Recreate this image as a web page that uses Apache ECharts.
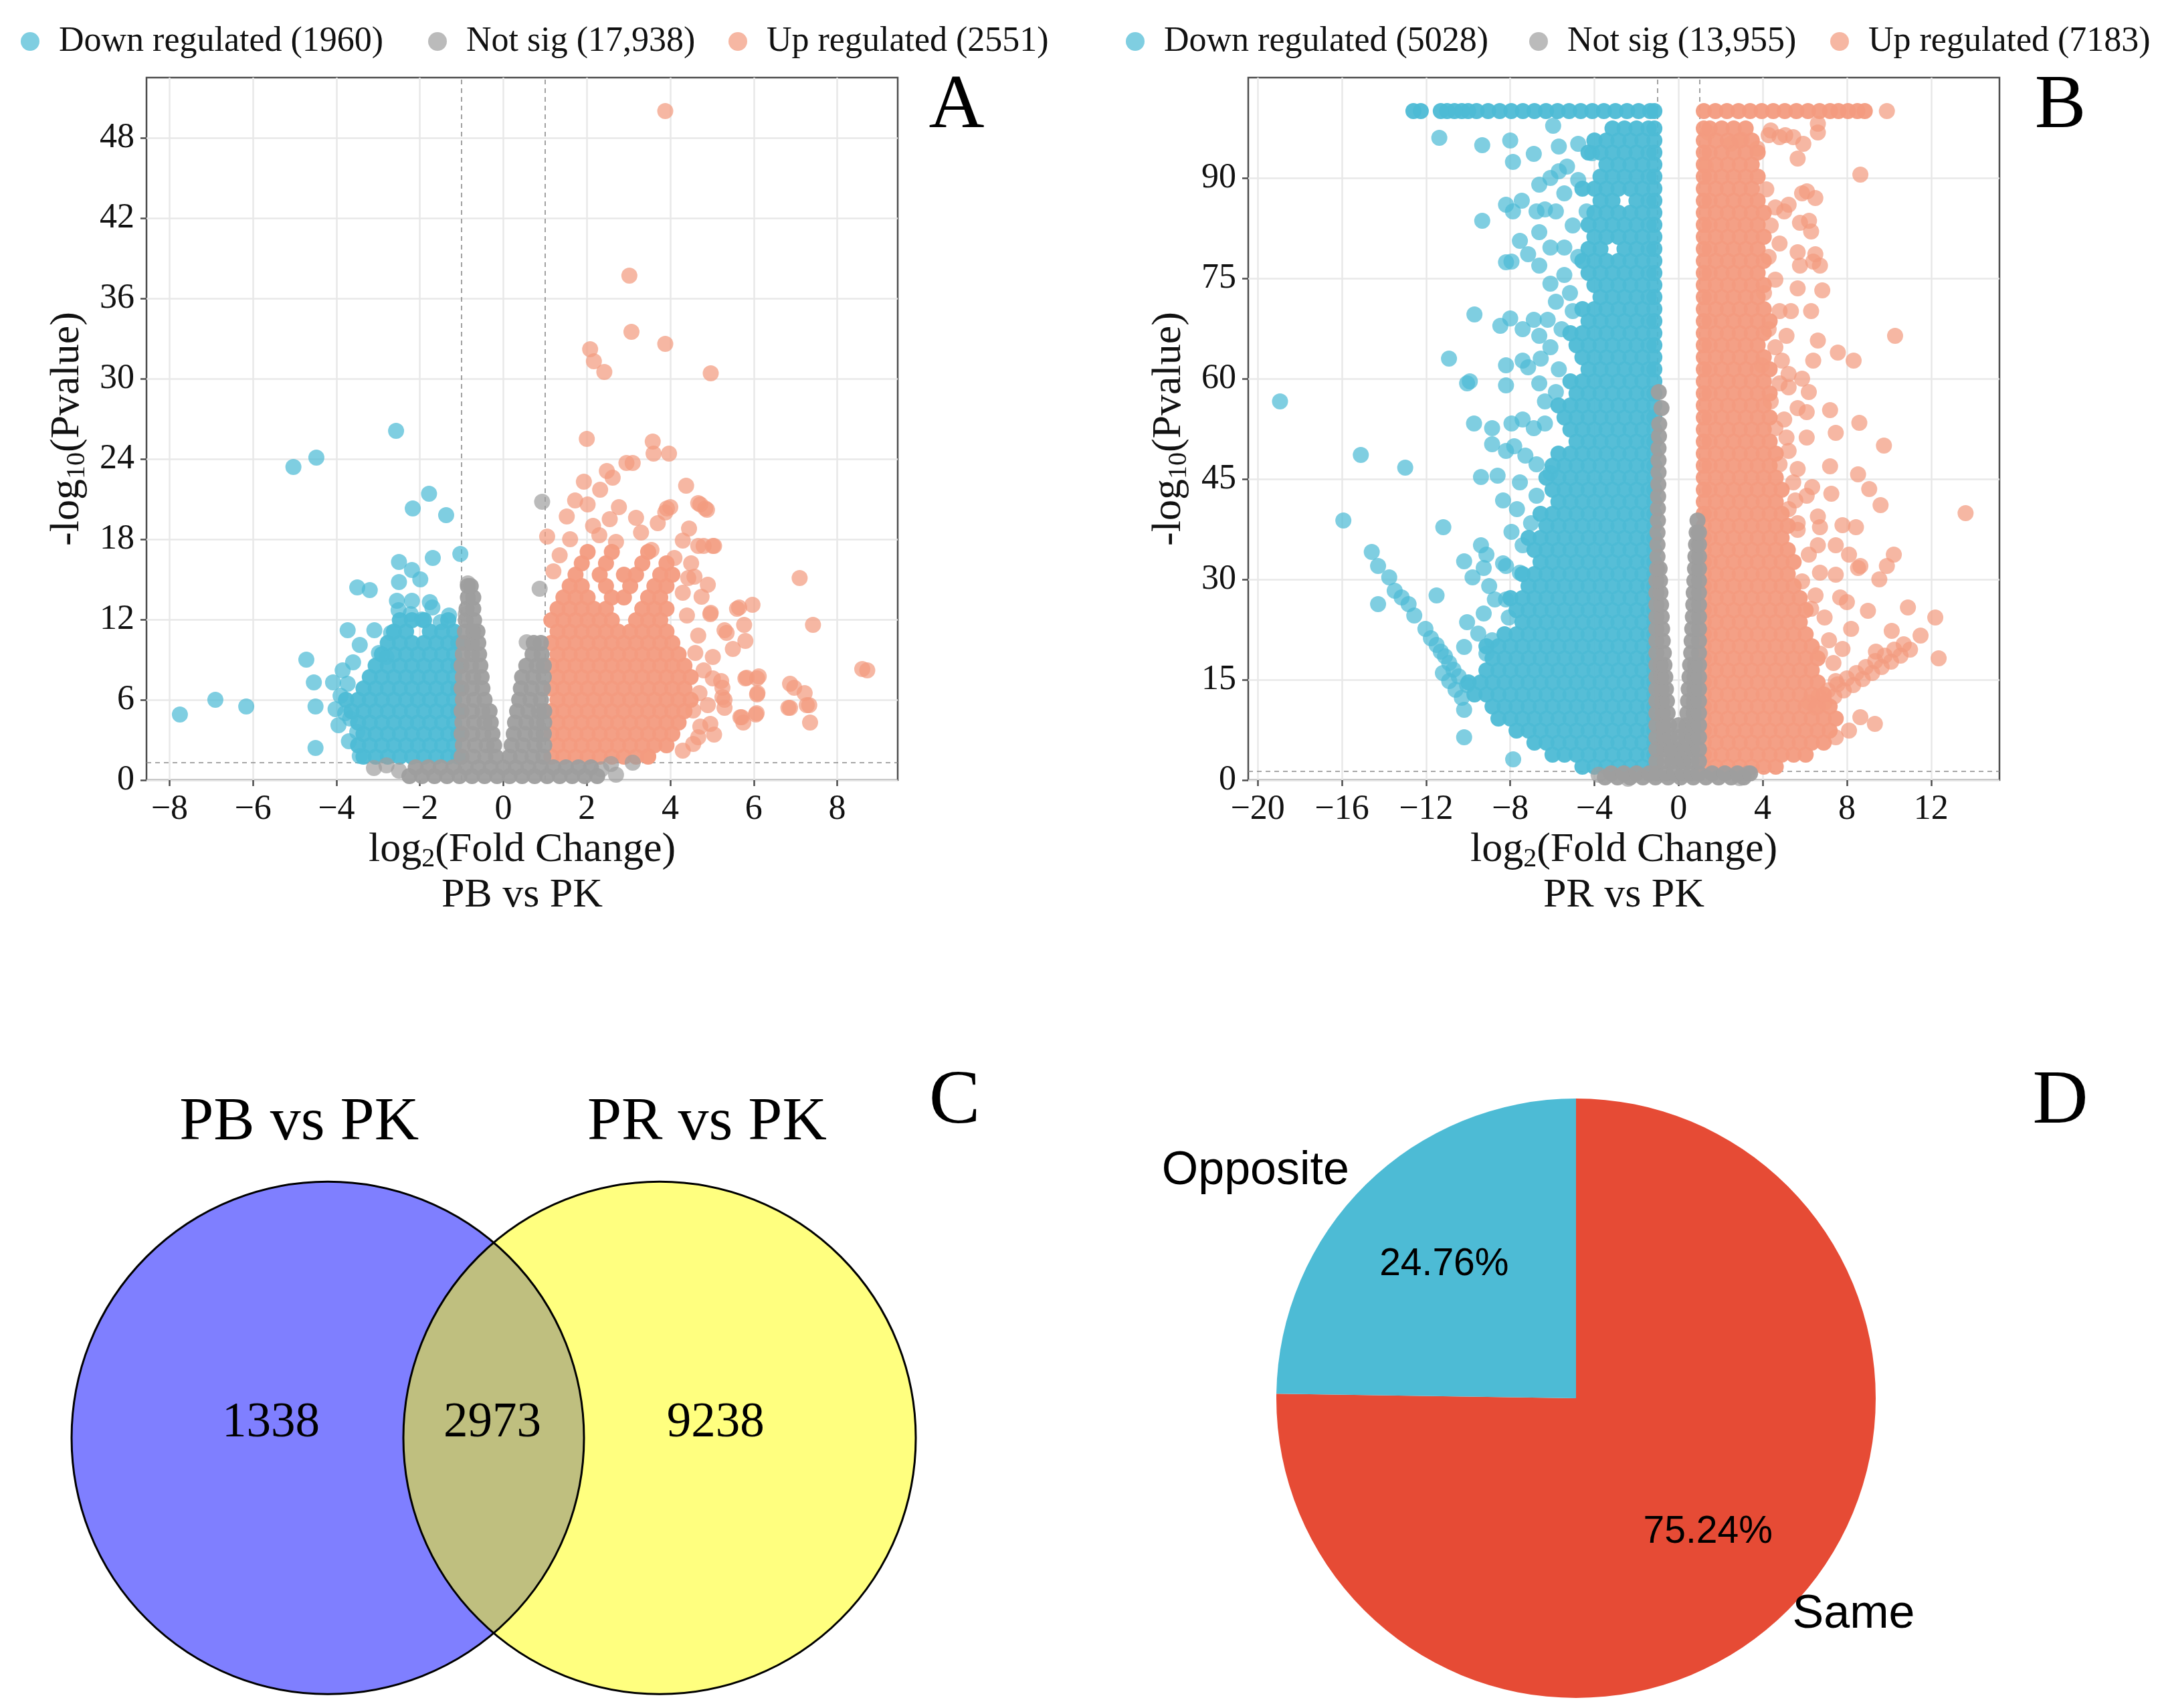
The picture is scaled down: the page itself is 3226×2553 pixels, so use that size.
<!DOCTYPE html>
<html>
<head>
<meta charset="utf-8">
<script src="https://cdn.jsdelivr.net/npm/echarts@6/dist/echarts.min.js"></script>
<style>
html,body{margin:0;padding:0;background:#fff}
#main{width:3226px;height:2553px}
</style>
</head>
<body>
<div id="main"></div>
<script>
// ---------- data ----------
const fcCut = 1, pCut = 1.301;
const legendA = ['Down regulated (1960)', 'Not sig (17,938)', 'Up regulated (2551)'];
const legendB = ['Down regulated (5028)', 'Not sig (13,955)', 'Up regulated (7183)'];
const ticksAx = [-8, -6, -4, -2, 0, 2, 4, 6, 8];
const ticksAy = [0, 6, 12, 18, 24, 30, 36, 42, 48];
const ticksBx = [-20, -16, -12, -8, -4, 0, 4, 8, 12];
const ticksBy = [0, 15, 30, 45, 60, 75, 90];
const vennSets = ['PB vs PK', 'PR vs PK'];
const vennCounts = [1338, 2973, 9238];
const pieNames = ['Same', 'Opposite'];
const pieValues = [75.24, 24.76];

// panel A, PB vs PK : [log2FC, -log10 p]
const downA = [[-2.57,26.1],[-5.03,23.4],[-4.48,24.1],[-1.78,21.4],[-2.17,20.3],[-1.37,19.8],[-1.03,16.9],[-1.69,16.6],[-2.5,16.3],[-2.19,15.7],[-1.99,15.0],[-2.5,14.8],[-3.5,14.4],[-3.2,14.2],[-2.55,13.4],[-2.19,13.4],[-1.76,13.3],[-1.7,12.9],[-2.51,12.7],[-2.22,12.4],[-1.3,12.3],[-3.73,11.2],[-3.09,11.2],[-2.69,11.0],[-3.44,10.1],[-2.98,9.5],[-2.8,9.2],[-4.72,9.0],[-4.54,7.3],[-4.08,7.3],[-3.73,7.2],[-4.5,5.5],[-4.02,5.3],[-3.79,5.0],[-3.67,4.6],[-3.5,3.6],[-3.44,1.8],[-4.5,2.4],[-7.75,4.9],[-6.9,6.0],[-6.16,5.5],[-3.9,6.3],[-3.85,8.2],[-3.6,8.8],[-3.95,4.1],[-3.7,2.9],[-1.5,11.8],[-1.95,12.0]];
const downArows = [
[1.75,-1.08,-1.32,-1.61,-1.9,-2.19,-2.48,-2.77,-3.06,-3.35],
[2.6,-1.18,-1.47,-1.76,-2.05,-2.33,-2.62,-2.91,-3.2,-3.48],
[3.45,-1.08,-1.32,-1.61,-1.9,-2.19,-2.48,-2.77,-3.06,-3.35],
[4.3,-1.18,-1.47,-1.76,-2.05,-2.33,-2.62,-2.91,-3.2,-3.48],
[5.15,-1.08,-1.32,-1.61,-1.9,-2.19,-2.48,-2.77,-3.06,-3.35,-3.64],
[6.0,-1.18,-1.47,-1.76,-2.05,-2.33,-2.62,-2.91,-3.2,-3.48,-3.77],
[6.85,-1.08,-1.32,-1.61,-1.9,-2.19,-2.48,-2.77,-3.06,-3.35],
[7.7,-1.18,-1.47,-1.76,-2.05,-2.33,-2.62,-2.91,-3.2],
[8.55,-1.08,-1.32,-1.61,-1.9,-2.19,-2.48,-2.77,-3.06],
[9.4,-1.18,-1.47,-1.76,-2.05,-2.33,-2.62,-2.91],
[10.25,-1.08,-1.32,-1.61,-1.9,-2.19,-2.48,-2.77],
[11.1,-1.18,-1.47,-1.76,-2.33,-2.62],
[11.95,-1.32,-1.9,-2.19,-2.48]
];
const upA = [[3.88,50.0],[3.02,37.7],[3.07,33.5],[3.88,32.6],[2.08,32.2],[2.17,31.3],[2.42,30.5],[4.97,30.4],[2.0,25.5],[3.58,25.3],[3.6,24.4],[3.97,24.4],[2.95,23.7],[3.1,23.7],[2.48,23.1],[2.62,22.6],[4.38,22.0],[1.93,22.3],[2.32,21.7],[1.72,20.9],[2.02,20.6],[4.72,20.6],[4.88,20.2],[4.0,20.4],[3.88,20.0],[2.77,20.4],[3.18,19.6],[2.55,19.5],[1.52,19.7],[1.05,18.2],[4.8,17.5],[5.05,17.5],[4.3,17.9],[7.1,15.1],[7.42,11.6],[5.97,13.1],[5.6,12.8],[8.6,8.3],[8.72,8.2],[6.08,7.6],[5.8,7.6],[6.08,6.4],[6.05,4.9],[5.68,4.7],[5.75,4.3],[6.97,6.9],[7.22,6.5],[6.83,5.4],[7.27,5.6],[7.35,4.3],[5.25,6.9],[5.3,6.0],[5.02,9.2],[5.35,11.0],[4.97,12.5],[4.75,13.7],[4.58,15.2],[4.43,15.1],[5.22,7.4],[4.72,4.0],[5.05,3.4],[4.55,2.7],[4.3,2.2],[3.47,1.8],[5.65,12.9],[5.77,11.6],[4.96,12.4],[5.3,11.2],[4.67,10.8],[5.02,7.6],[5.83,7.65],[6.12,7.75],[6.09,6.5],[6.07,5.0],[5.71,4.7],[6.87,7.2],[6.87,5.4],[7.33,5.6],[5.25,6.2],[5.3,5.4],[4.96,4.2],[4.67,3.2],[4.67,20.7],[4.84,20.3],[3.92,20.3],[5.02,17.5],[4.67,17.5],[1.35,16.8],[1.6,18.0],[2.3,18.3],[2.7,17.8],[3.3,18.5],[3.55,17.2],[4.1,16.6],[4.5,16.2],[1.2,15.6],[2.15,19.0],[3.7,19.2],[4.45,18.8],[4.9,14.6],[4.6,9.5],[4.8,8.2],[4.7,6.5],[4.55,5.2],[4.9,5.6],[5.5,9.8],[5.8,10.4],[4.4,12.3],[4.3,14.0]];
const upArows = [
[1.75,1.15,1.44,1.73,2.02,2.31,2.6,2.89,3.18,3.47],
[2.6,1.3,1.59,1.88,2.17,2.46,2.75,3.04,3.33,3.62,3.91],
[3.45,1.15,1.44,1.73,2.02,2.31,2.6,2.89,3.18,3.47,3.76,4.05],
[4.3,1.3,1.59,1.88,2.17,2.46,2.75,3.04,3.33,3.62,3.91,4.2],
[5.15,1.15,1.44,1.73,2.02,2.31,2.6,2.89,3.18,3.47,3.76,4.05,4.34],
[6.0,1.3,1.59,1.88,2.17,2.46,2.75,3.04,3.33,3.62,3.91,4.2,4.49],
[6.85,1.15,1.44,1.73,2.02,2.31,2.6,2.89,3.18,3.47,3.76,4.05,4.34],
[7.7,1.3,1.59,1.88,2.17,2.46,2.75,3.04,3.33,3.62,3.91,4.2,4.49],
[8.55,1.15,1.44,1.73,2.02,2.31,2.6,2.89,3.18,3.47,3.76,4.05,4.34],
[9.4,1.3,1.59,1.88,2.17,2.46,2.75,3.04,3.33,3.62,3.91,4.2],
[10.25,1.15,1.44,1.73,2.02,2.31,2.6,2.89,3.18,3.47,3.76,4.05],
[11.1,1.3,1.59,1.88,2.17,2.46,2.75,3.04,3.33,3.62,3.91],
[11.95,1.15,1.44,1.73,2.02,2.31,2.6,3.18,3.47,3.76],
[12.8,1.3,1.59,1.88,2.17,2.46,3.33,3.62,3.91],
[13.65,1.44,1.73,2.02,2.6,2.89,3.47,3.76],
[14.5,1.59,1.88,2.46,3.04,3.62,3.91],
[15.35,1.73,2.31,2.89,3.18,3.76,4.05],
[16.2,1.88,2.46,3.33,3.91],
[17.05,2.02,2.6,3.47]
];
const nsA = [[0.93,20.8],[0.87,14.3],[0.56,10.3],[-0.85,14.7],[2.58,1.2],[3.1,1.3],[2.35,0.8],[-3.1,0.9],[-2.8,1.1],[-2.5,0.7],[2.7,0.4],[-0.9,12.4]];
const nsArows = [
[0.3,-2.25,-1.95,-1.65,-1.35,-1.05,-0.75,-0.45,-0.15,0.15,0.45,0.75,1.05,1.35,1.65,1.95,2.25],
[0.95,-2.1,-1.8,-1.5,-1.2,-0.9,-0.6,-0.3,0,0.3,0.6,0.9,1.2,1.5,1.8,2.1],
[1.75,-1.0,-0.72,-0.43,-0.18,0.15,0.42,0.7,0.96],
[2.6,-0.97,-0.68,-0.4,-0.22,0.2,0.47,0.75,0.98],
[3.45,-1.0,-0.74,-0.48,-0.26,0.25,0.52,0.78,0.97],
[4.3,-0.98,-0.7,-0.45,-0.3,0.28,0.55,0.8,0.98],
[5.15,-1.0,-0.75,-0.5,-0.33,0.33,0.6,0.85,0.98],
[6.0,-0.97,-0.7,-0.45,0.38,0.65,0.9],
[6.85,-1.0,-0.75,-0.5,0.42,0.68,0.95],
[7.7,-0.97,-0.72,-0.52,0.45,0.72,0.97],
[8.55,-1.0,-0.77,-0.55,0.55,0.8,0.97],
[9.4,-0.97,-0.75,-0.58,0.7,0.92],
[10.25,-0.95,-0.75,-0.6,0.73,0.9],
[11.1,-0.92,-0.72,-0.62],
[11.95,-0.9,-0.7],
[12.8,-0.88,-0.72],
[13.65,-0.85,-0.72],
[14.5,-0.85,-0.78]
];

// panel B, PR vs PK
const downB = [[-18.94,56.6],[-15.1,48.6],[-12.99,46.7],[-15.93,38.8],[-14.58,34.1],[-14.28,32.0],[-13.75,30.3],[-13.49,28.3],[-13.16,27.3],[-12.83,26.3],[-12.56,24.6],[-14.28,26.3],[-12.03,22.6],[-11.77,21.2],[-11.5,20.2],[-11.3,19.2],[-11.1,18.5],[-10.9,17.5],[-10.7,16.5],[-10.45,15.5],[-10.05,14.2],[-11.2,16.0],[-10.9,14.8],[-10.6,13.5],[-10.3,12.3],[-11.18,37.8],[-10.91,63.0],[-10.05,59.3],[-9.92,59.6],[-9.7,69.6],[-9.33,83.6],[-11.37,96.0],[-9.33,94.9],[-8.0,95.6],[-7.87,92.4],[-6.88,93.6],[-5.69,94.7],[-8.2,86.0],[-7.87,85.0],[-7.45,86.6],[-7.15,78.6],[-8.2,77.4],[-7.94,77.5],[-7.54,80.6],[-6.62,81.9],[-6.35,85.3],[-6.62,89.0],[-6.09,90.0],[-6.88,68.8],[-8.47,67.9],[-8.0,69.0],[-8.2,62.0],[-8.2,59.0],[-7.41,67.4],[-6.62,66.4],[-9.72,53.3],[-8.86,52.6],[-8.86,50.2],[-9.39,45.3],[-8.6,45.5],[-8.2,49.2],[-9.39,35.1],[-10.19,32.7],[-9.26,31.7],[-9.79,30.3],[-11.5,27.6],[-8.2,32.0],[-8.2,27.0],[-10.19,10.5],[-10.19,6.4],[-7.86,3.1],[-7.41,62.7],[-7.15,61.7],[-6.55,63.0],[-6.09,64.7],[-5.56,67.4],[-5.03,70.1],[-5.16,72.8],[-5.43,75.5],[-6.09,74.2],[-4.77,78.2],[-5.43,79.6],[-5.03,82.9],[-4.37,85.0],[-5.83,85.0],[-5.43,87.7],[-4.77,89.7],[-5.3,91.7],[-4.11,93.7],[-4.77,95.1],[-5.96,97.8],[-5.69,91.0],[-7.94,53.3],[-7.41,53.9],[-6.88,52.6],[-6.35,53.3],[-7.81,49.9],[-7.28,48.5],[-6.75,47.2],[-6.09,45.9],[-7.54,44.5],[-6.75,42.5],[-8.34,41.8],[-7.68,40.5],[-7.01,38.4],[-7.94,37.1],[-7.41,35.1],[-9.13,33.7],[-8.34,32.4],[-7.54,31.0],[-9.0,29.0],[-8.73,27.0],[-9.26,24.9],[-8.07,24.3],[-10.05,23.6],[-9.52,21.9],[-8.86,20.9],[-10.19,19.9],[-9.13,18.9],[-5.83,58.0],[-6.35,56.6],[-6.62,59.3],[-5.69,61.4],[-6.22,68.8],[-5.83,71.5],[-6.62,76.9],[-6.09,79.6],[-6.75,85.0]];
const downBrows = [
[2.0,-1.15,-1.72,-2.29,-2.86,-3.43,-4.0,-4.57],
[3.8,-1.15,-1.43,-2.0,-2.57,-3.14,-3.71,-4.28,-4.85,-5.42,-5.99],
[5.6,-1.15,-1.72,-2.29,-2.86,-3.43,-4.0,-4.57,-5.14,-5.71,-6.28,-6.85],
[7.4,-1.15,-1.43,-2.0,-2.57,-3.14,-3.71,-4.28,-4.85,-5.42,-5.99,-6.56,-7.13,-7.7],
[9.2,-1.15,-1.72,-2.29,-2.86,-3.43,-4.0,-4.57,-5.14,-5.71,-6.28,-6.85,-7.42,-7.99,-8.56],
[11.0,-1.15,-1.43,-2.0,-2.57,-3.14,-3.71,-4.28,-4.85,-5.42,-5.99,-6.56,-7.13,-7.7,-8.27,-8.84],
[12.8,-1.15,-1.72,-2.29,-2.86,-3.43,-4.0,-4.57,-5.14,-5.71,-6.28,-6.85,-7.42,-7.99,-8.56,-9.13,-9.7],
[14.6,-1.15,-1.43,-2.0,-2.57,-3.14,-3.71,-4.28,-4.85,-5.42,-5.99,-6.56,-7.13,-7.7,-8.27,-8.84,-9.41,-9.98],
[16.4,-1.15,-1.72,-2.29,-2.86,-3.43,-4.0,-4.57,-5.14,-5.71,-6.28,-6.85,-7.42,-7.99,-8.56,-9.13],
[18.2,-1.15,-1.43,-2.0,-2.57,-3.14,-3.71,-4.28,-4.85,-5.42,-5.99,-6.56,-7.13,-7.7,-8.27,-8.84],
[20.0,-1.15,-1.72,-2.29,-2.86,-3.43,-4.0,-4.57,-5.14,-5.71,-6.28,-6.85,-7.42,-7.99,-8.56,-9.13],
[21.8,-1.15,-1.43,-2.0,-2.57,-3.14,-3.71,-4.28,-4.85,-5.42,-5.99,-6.56,-7.13,-7.7,-8.27],
[23.6,-1.15,-1.72,-2.29,-2.86,-3.43,-4.0,-4.57,-5.14,-5.71,-6.28,-6.85,-7.42],
[25.4,-1.15,-1.43,-2.0,-2.57,-3.14,-3.71,-4.28,-4.85,-5.42,-5.99,-6.56,-7.13,-7.7],
[27.2,-1.15,-1.72,-2.29,-2.86,-3.43,-4.0,-4.57,-5.14,-5.71,-6.28,-6.85,-7.42,-7.99],
[29.0,-1.15,-1.43,-2.0,-2.57,-3.14,-3.71,-4.28,-4.85,-5.42,-5.99,-6.56,-7.13],
[30.8,-1.15,-1.72,-2.29,-2.86,-3.43,-4.0,-4.57,-5.14,-5.71,-6.28,-6.85,-7.42],
[32.6,-1.15,-1.43,-2.0,-2.57,-3.14,-3.71,-4.28,-4.85,-5.42,-5.99,-6.56],
[34.4,-1.15,-1.72,-2.29,-2.86,-3.43,-4.0,-4.57,-5.14,-5.71,-6.28,-6.85],
[36.2,-1.15,-1.43,-2.0,-2.57,-3.14,-3.71,-4.28,-4.85,-5.42,-5.99,-6.56,-7.13],
[38.0,-1.15,-1.72,-2.29,-2.86,-3.43,-4.0,-4.57,-5.14,-5.71,-6.28],
[39.8,-1.15,-1.43,-2.0,-2.57,-3.14,-3.71,-4.28,-4.85,-5.42,-5.99,-6.56],
[41.6,-1.15,-1.72,-2.29,-2.86,-3.43,-4.0,-4.57,-5.14,-5.71],
[43.4,-1.15,-1.43,-2.0,-2.57,-3.14,-3.71,-4.28,-4.85,-5.42,-5.99],
[45.2,-1.15,-1.72,-2.29,-2.86,-3.43,-4.0,-4.57,-5.14,-5.71,-6.28],
[47.0,-1.15,-1.43,-2.0,-2.57,-3.14,-3.71,-4.28,-4.85,-5.42,-5.99],
[48.8,-1.15,-1.72,-2.29,-2.86,-3.43,-4.0,-4.57,-5.14,-5.71],
[50.6,-1.15,-1.43,-2.0,-2.57,-3.14,-3.71,-4.28,-4.85],
[52.4,-1.15,-1.72,-2.29,-2.86,-3.43,-4.0,-4.57,-5.14],
[54.2,-1.15,-1.43,-2.0,-2.57,-3.14,-3.71,-4.28,-4.85,-5.42],
[56.0,-1.15,-1.72,-2.29,-2.86,-3.43,-4.0,-4.57,-5.14,-5.71],
[57.8,-1.15,-1.43,-2.0,-2.57,-3.14,-3.71,-4.28,-4.85],
[59.6,-1.15,-1.72,-2.29,-2.86,-3.43,-4.0,-4.57,-5.14],
[61.4,-1.15,-1.43,-2.0,-2.57,-3.14,-3.71,-4.28],
[63.2,-1.15,-1.72,-2.29,-2.86,-3.43,-4.0,-4.57],
[65.0,-1.15,-1.43,-2.0,-2.57,-3.14,-3.71,-4.28,-4.85],
[66.8,-1.15,-1.72,-2.29,-2.86,-3.43,-4.0,-4.57,-5.14],
[68.6,-1.15,-1.43,-2.0,-2.57,-3.14,-3.71,-4.28],
[70.4,-1.15,-1.72,-2.29,-2.86,-3.43,-4.0,-4.57],
[72.2,-1.15,-1.43,-2.0,-2.57,-3.14,-3.71],
[74.0,-1.15,-1.72,-2.29,-2.86,-3.43,-4.0],
[75.8,-1.15,-1.43,-2.0,-2.57,-3.14,-3.71,-4.28],
[77.6,-1.15,-1.72,-2.29,-2.86,-3.43,-4.0,-4.57],
[79.4,-1.15,-1.43,-2.0,-2.57,-3.71,-4.28],
[81.2,-1.15,-1.72,-2.29,-2.86,-3.43,-4.0],
[83.0,-1.15,-1.43,-2.0,-2.57,-3.14,-3.71,-4.28],
[84.8,-1.15,-1.72,-2.29,-2.86,-3.43,-4.0],
[86.6,-1.15,-1.43,-2.0,-3.14,-3.71],
[88.4,-1.15,-1.72,-2.29,-2.86,-3.43,-4.0,-4.57],
[90.2,-1.15,-1.43,-2.0,-2.57,-3.14,-3.71],
[92.0,-1.15,-1.72,-2.29,-2.86,-3.43],
[93.8,-1.15,-1.43,-2.0,-2.57,-3.14,-3.71,-4.28],
[95.6,-1.15,-1.72,-2.29,-2.86,-3.43,-4.0],
[97.4,-1.15,-1.43,-2.0,-2.57,-3.14],
[100,-1.15,-1.35,-1.9,-2.45,-3.0,-3.55,-4.1,-4.65,-5.2,-5.75,-6.3,-6.85,-7.4,-7.95,-8.5,-9.05,-9.6,-10.0,-10.3,-10.65,-11.0,-11.3,-12.25,-12.6]
];
const upB = [[1.4,96.8],[1.3,91.7],[4.38,97.1],[5.07,96.4],[5.45,96.1],[5.93,95.1],[6.62,96.8],[5.66,92.9],[6.62,98.1],[8.64,90.5],[5.23,86.0],[5.87,87.7],[6.1,88.0],[6.5,87.0],[6.2,83.6],[5.77,83.3],[6.3,82.0],[5.66,78.9],[5.77,76.9],[6.4,77.5],[6.72,76.9],[6.5,78.6],[5.66,73.5],[6.83,73.2],[5.34,70.1],[6.3,70.1],[5.13,66.4],[6.62,65.7],[4.91,62.7],[6.4,62.7],[7.57,63.9],[8.32,62.7],[10.29,66.4],[5.23,60.7],[5.87,60.0],[5.23,58.7],[6.19,58.0],[5.66,55.6],[7.2,55.3],[6.09,55.0],[7.47,51.9],[8.59,53.4],[9.76,50.0],[5.13,51.2],[6.09,51.2],[7.2,46.9],[8.53,45.7],[9.06,43.5],[9.6,41.1],[13.64,39.9],[6.35,43.8],[7.26,42.8],[5.55,41.8],[6.62,39.4],[7.79,38.1],[8.43,37.8],[6.72,37.8],[5.66,37.4],[6.62,35.1],[7.47,35.1],[8.1,33.7],[8.64,32.0],[9.54,30.0],[10.23,33.7],[9.9,32.0],[7.47,30.7],[8.53,31.7],[7.68,27.3],[9.0,25.3],[10.9,25.8],[12.2,24.3],[11.5,21.6],[12.36,18.2],[10.13,22.3],[9.38,19.2],[8.0,26.6],[8.2,22.6],[7.79,19.6],[8.64,9.4],[9.33,8.4],[9.9,100],[2.47,95.1],[3.0,95.7],[3.74,94.4],[4.28,96.4],[4.8,96.1],[4.17,88.3],[4.6,85.6],[5.02,85.0],[4.38,82.9],[4.8,80.2],[4.28,78.2],[4.6,74.8],[4.06,72.8],[4.8,70.1],[4.28,67.4],[4.6,64.7],[3.96,62.0],[4.8,59.3],[4.38,56.6],[5.02,53.9],[4.6,52.6],[5.23,49.2],[4.8,47.2],[5.66,46.5],[5.45,44.5],[6.09,42.5],[5.23,40.5],[5.66,38.4],[6.19,33.7],[6.72,31.0],[5.87,29.7],[6.51,27.6],[6.94,24.3],[6.3,25.6],[7.15,20.9],[6.72,18.9],[7.36,17.5],[7.47,14.8],[6.51,10.8],[6.95,11.6],[7.4,12.5],[7.85,13.4],[8.3,14.2],[8.75,15.1],[9.2,16.0],[9.65,16.9],[10.1,17.7],[10.55,18.6],[11.0,19.5],[6.2,11.6],[6.65,12.5],[7.1,13.4],[7.55,14.3],[8.0,15.2],[8.45,16.0],[8.9,16.9],[9.35,17.8],[9.8,18.6],[10.25,19.5],[10.7,20.3],[7.47,6.4],[8.1,7.4]];
const upBrows = [
[2.0,1.2,1.77,2.34,2.91,3.48,4.05,4.62],
[3.8,1.2,1.48,2.05,2.62,3.19,3.76,4.33,4.9,5.47,6.04],
[5.6,1.2,1.77,2.34,2.91,3.48,4.05,4.62,5.19,5.76,6.33,6.9],
[7.4,1.2,1.48,2.05,2.62,3.19,3.76,4.33,4.9,5.47,6.04,6.61,7.18],
[9.2,1.2,1.77,2.34,2.91,3.48,4.05,4.62,5.19,5.76,6.33,6.9,7.47],
[11.0,1.2,1.48,2.05,2.62,3.19,3.76,4.33,4.9,5.47,6.04,6.61,7.18],
[12.8,1.2,1.77,2.34,2.91,3.48,4.05,4.62,5.19,5.76,6.33,6.9],
[14.6,1.2,1.48,2.05,2.62,3.19,3.76,4.33,4.9,5.47,6.04,6.61],
[16.4,1.2,1.77,2.34,2.91,3.48,4.05,4.62,5.19,5.76,6.33],
[18.2,1.2,1.48,2.05,2.62,3.19,3.76,4.33,4.9,5.47,6.04,6.61],
[20.0,1.2,1.77,2.34,2.91,3.48,4.05,4.62,5.19,5.76,6.33],
[21.8,1.2,1.48,2.05,2.62,3.19,3.76,4.33,4.9,5.47,6.04],
[23.6,1.2,1.77,2.34,2.91,3.48,4.05,4.62,5.19,5.76],
[25.4,1.2,1.48,2.05,2.62,3.19,3.76,4.33,4.9,5.47,6.04],
[27.2,1.2,1.77,2.34,2.91,3.48,4.05,4.62,5.19,5.76],
[29.0,1.2,1.48,2.05,2.62,3.19,3.76,4.33,4.9,5.47],
[30.8,1.2,1.77,2.34,2.91,3.48,4.05,4.62,5.19],
[32.6,1.2,1.48,2.05,2.62,3.19,3.76,4.33,4.9,5.47],
[34.4,1.2,1.77,2.34,2.91,3.48,4.05,4.62,5.19],
[36.2,1.2,1.48,2.05,2.62,3.19,3.76,4.33,4.9],
[38.0,1.2,1.77,2.34,2.91,3.48,4.05,4.62,5.19],
[39.8,1.2,1.48,2.05,2.62,3.19,3.76,4.33,4.9],
[41.6,1.2,1.77,2.34,2.91,3.48,4.05,4.62],
[43.4,1.2,1.48,2.05,2.62,3.19,3.76,4.33,4.9],
[45.2,1.2,1.77,2.34,2.91,3.48,4.05,4.62],
[47.0,1.2,1.48,2.05,2.62,3.19,3.76,4.33],
[48.8,1.2,1.77,2.34,2.91,3.48,4.05,4.62],
[50.6,1.2,1.48,2.05,2.62,3.19,3.76,4.33],
[52.4,1.2,1.77,2.34,2.91,3.48,4.05],
[54.2,1.2,1.48,2.05,2.62,3.19,3.76,4.33],
[56.0,1.2,1.77,2.34,2.91,3.48,4.05],
[57.8,1.2,1.48,2.05,2.62,3.19,3.76,4.33],
[59.6,1.2,1.77,2.34,2.91,3.48,4.05],
[61.4,1.2,1.48,2.05,2.62,3.19,3.76,4.33],
[63.2,1.2,1.77,2.34,2.91,3.48,4.05],
[65.0,1.2,1.48,2.05,2.62,3.19,3.76],
[66.8,1.2,1.77,2.34,2.91,3.48,4.05],
[68.6,1.2,1.48,2.05,2.62,3.19,3.76,4.33],
[70.4,1.2,1.77,2.34,2.91,3.48,4.05],
[72.2,1.2,1.48,2.05,2.62,3.19,3.76],
[74.0,1.2,1.77,2.34,2.91,3.48,4.05],
[75.8,1.2,1.48,2.05,2.62,3.19,3.76],
[77.6,1.2,1.77,2.34,2.91,3.48,4.05],
[79.4,1.2,1.48,2.05,2.62,3.19,3.76],
[81.2,1.2,1.77,2.34,2.91,3.48,4.05],
[83.0,1.2,1.48,2.05,2.62,3.19,3.76],
[84.8,1.2,1.77,2.34,2.91,3.48,4.05],
[86.6,1.2,1.48,2.05,2.62,3.19,3.76],
[88.4,1.2,1.77,2.34,2.91,3.48],
[90.2,1.2,1.48,2.05,2.62,3.19,3.76],
[92.0,1.2,1.77,2.34,2.91,3.48],
[93.8,1.2,1.48,2.05,2.62,3.19,3.76],
[95.6,1.2,1.77,2.34,2.91,3.48],
[97.4,1.2,1.48,2.05,2.62,3.19],
[100,1.2,1.75,2.3,2.85,3.4,3.95,4.5,5.05,5.6,6.15,6.7,7.2,7.6,8.05,8.5,8.85]
];
const nsB = [[-2.4,0.2],[2.9,0.3],[3.3,1.0],[-3.8,0.8]];
const nsBrows = [
[0.4,-3.5,-2.9,-2.3,-1.7,-1.1,-0.5,0.1,0.7,1.3,1.9,2.5,3.1],
[1.0,-3.2,-2.6,-2.0,-1.4,-1.05,-0.6,-0.2,0.2,0.6,0.97,1.6,2.2,2.8,3.4],
[2.8,-1.05,-0.65,-0.3,0.02,0.25,0.62,0.97],
[4.6,-1.05,-0.68,-0.35,-0.02,0.3,0.65,0.97],
[6.4,-1.05,-0.7,-0.4,0.0,0.35,0.68,0.97],
[8.2,-1.05,-0.72,-0.45,0.0,0.38,0.7,0.97],
[10.0,-1.05,-0.75,-0.52,0.42,0.72,0.97],
[11.8,-1.05,-0.78,-0.55,0.45,0.73,0.97],
[13.6,-1.05,-0.8,-0.6,0.48,0.75,0.97],
[15.4,-1.05,-0.82,-0.63,0.52,0.75,0.97],
[17.2,-1.05,-0.85,-0.67,0.55,0.78,0.97],
[19.0,-1.05,-0.7,0.6,0.97],
[20.8,-1.05,-0.75,0.62,0.97],
[22.6,-1.05,-0.78,0.65,0.97],
[24.4,-1.05,-0.8,0.68,0.97],
[26.2,-1.05,-0.83,0.7,0.97],
[28.0,-1.05,-0.86,0.72,0.97],
[29.8,-1.05,-0.88,0.75,0.97],
[31.6,-1.02,-0.9,0.78,0.97],
[33.4,-1.0,0.8,0.97],
[35.2,-1.0,0.83,0.97],
[37.0,-1.0,0.86,0.97],
[38.8,-0.98,0.9],
[40.6,-0.98],[42.4,-0.97],[44.2,-0.96],[46.0,-0.95],[47.8,-0.95],[49.6,-0.95],
[51.4,-0.93],[53.2,-0.92],[55.6,-0.81],[58.0,-0.94]
];

// ---------- drawing ----------
const serif = 'Liberation Serif';
const sans = 'Liberation Sans';
const colDown = '#4DBBD5', colUp = '#F39B7F', colNs = '#9E9E9E';
const ink = '#111111';
const dot = 24;

function rowsToPoints(rows) {
    const out = [];
    rows.forEach(r => {
        for (let i = 1; i < r.length; i++) out.push([r[i], r[0]]);
    });
    return out;
}

const nameStyle = {
    fontFamily: serif, fontSize: 62, color: ink, lineHeight: 68,
    rich: {
        t: { fontFamily: serif, fontSize: 62, lineHeight: 68, color: ink },
        s: { fontFamily: serif, fontSize: 40, lineHeight: 40, padding: [28, 0, 0, 0], color: ink }
    }
};

function valueAxis(gridIndex, min, max, ticks, name, nameGap) {
    return {
        type: 'value', gridIndex, min, max,
        axisLine: { show: false, onZero: false },
        axisTick: { show: true, length: 9, customValues: ticks, lineStyle: { color: '#4d4d4d', width: 2.5 } },
        axisLabel: {
            customValues: ticks, margin: 18, color: ink, fontFamily: serif, fontSize: 52,
            formatter: v => String(v).replace('-', '\u2212')
        },
        splitLine: { show: true, lineStyle: { color: '#e8e8e8', width: 2.5 } },
        name, nameLocation: 'middle', nameGap, nameTextStyle: nameStyle
    };
}

function hiddenAxis(gridIndex, min, max) {
    return { type: 'value', gridIndex, min, max, show: false, splitLine: { show: false } };
}

function volcano(g, names, down, downRows, up, upRows, ns, nsRows) {
    const mk = (name, data, color, op) => ({
        type: 'scatter', name, xAxisIndex: g, yAxisIndex: g, data,
        symbolSize: dot, itemStyle: { color, opacity: op },
        silent: true, progressive: 0, animation: false
    });
    return [
        {
            type: 'scatter', xAxisIndex: g, yAxisIndex: g, data: [], silent: true, z: 1,
            markLine: {
                silent: true, symbol: 'none', z: 1, animation: false,
                label: { show: false },
                lineStyle: { type: [7, 6], color: '#8a8a8a', width: 1.6 },
                data: [{ xAxis: -fcCut }, { xAxis: fcCut }, { yAxis: pCut }]
            }
        },
        mk(names[0], down, colDown, 0.72),
        mk(names[0], rowsToPoints(downRows), colDown, 0.95),
        mk(names[2], up, colUp, 0.72),
        mk(names[2], rowsToPoints(upRows), colUp, 0.95),
        mk(names[1], ns, colNs, 0.7),
        mk(names[1], rowsToPoints(nsRows), colNs, 0.95)
    ];
}

function legendAt(name, left) {
    return {
        data: [name], left, top: 36, padding: 0, icon: 'circle',
        itemWidth: 76, itemHeight: 28, selectedMode: false,
        textStyle: { fontFamily: serif, fontSize: 52, color: ink }
    };
}

const chart = echarts.init(document.getElementById('main'), null, { renderer: 'canvas' });

// Venn layout in its own space, circle radius 1
const vennCentres = [[1.0, 1.0], [2.295, 1.0]];
const vennFill = ['rgba(0,0,255,0.5)', 'rgba(255,255,0,0.5)'];
const vennTitlePos = [[0.888, 2.23], [2.48, 2.23]];
const vennCountPos = [[0.778, 1.057], [1.642, 1.057], [2.514, 1.057]];

const circleItem = stroke => (params, api) => {
    const c = api.coord([api.value(0), api.value(1)]);
    const r = api.size([1, 0])[0];
    return {
        type: 'circle', shape: { cx: c[0], cy: c[1], r },
        style: stroke ? { fill: 'none', stroke: '#000', lineWidth: 3 }
                      : { fill: vennFill[params.dataIndex] }
    };
};

const textItem = (texts, font) => (params, api) => {
    const c = api.coord([api.value(0), api.value(1)]);
    return {
        type: 'text', x: c[0], y: c[1],
        style: { text: String(texts[params.dataIndex]), font, fill: '#000', align: 'center', verticalAlign: 'middle' }
    };
};

const option = {
    backgroundColor: '#ffffff',
    animation: false,
    grid: [
        { left: 219, top: 116, width: 1123, height: 1050, show: true, borderColor: '#4d4d4d', borderWidth: 2.5, backgroundColor: 'transparent' },
        { left: 1866, top: 116, width: 1123, height: 1050, show: true, borderColor: '#4d4d4d', borderWidth: 2.5, backgroundColor: 'transparent' },
        { left: 107, top: 1575, width: 1262, height: 957, show: false }
    ],
    xAxis: [
        valueAxis(0, -8.55, 9.45, ticksAx, '{t|log}{s|2}{t|(Fold Change)}\n{t|PB vs PK}', 66),
        valueAxis(1, -20.45, 15.25, ticksBx, '{t|log}{s|2}{t|(Fold Change)}\n{t|PR vs PK}', 66),
        hiddenAxis(2, 0, 3.295)
    ],
    yAxis: [
        valueAxis(0, 0, 52.5, ticksAy, '{t|-log}{s|10}{t|(Pvalue)}', 84),
        valueAxis(1, 0, 105, ticksBy, '{t|-log}{s|10}{t|(Pvalue)}', 84),
        hiddenAxis(2, 0, 2.5)
    ],
    legend: [
        legendAt(legendA[0], 31), legendAt(legendA[1], 640), legendAt(legendA[2], 1089),
        legendAt(legendB[0], 1683), legendAt(legendB[1], 2286), legendAt(legendB[2], 2736)
    ],
    graphic: [
        { type: 'text', x: 1430, y: 160, style: { text: 'A', font: '115px "Liberation Serif"', fill: '#000', align: 'center', verticalAlign: 'middle' } },
        { type: 'text', x: 3080, y: 160, style: { text: 'B', font: '115px "Liberation Serif"', fill: '#000', align: 'center', verticalAlign: 'middle' } },
        { type: 'text', x: 1427, y: 1648, style: { text: 'C', font: '115px "Liberation Serif"', fill: '#000', align: 'center', verticalAlign: 'middle' } },
        { type: 'text', x: 3080, y: 1648, style: { text: 'D', font: '115px "Liberation Serif"', fill: '#000', align: 'center', verticalAlign: 'middle' } }
    ],
    series: [
        ...volcano(0, legendA, downA, downArows, upA, upArows, nsA, nsArows),
        ...volcano(1, legendB, downB, downBrows, upB, upBrows, nsB, nsBrows),
        {
            type: 'custom', xAxisIndex: 2, yAxisIndex: 2, silent: true,
            data: vennCentres, renderItem: circleItem(false)
        },
        {
            type: 'custom', xAxisIndex: 2, yAxisIndex: 2, silent: true, z: 3,
            data: vennCentres, renderItem: circleItem(true)
        },
        {
            type: 'custom', xAxisIndex: 2, yAxisIndex: 2, silent: true, z: 4,
            data: vennTitlePos, renderItem: textItem(vennSets, '92px "Liberation Serif"')
        },
        {
            type: 'custom', xAxisIndex: 2, yAxisIndex: 2, silent: true, z: 4,
            data: vennCountPos, renderItem: textItem(vennCounts, '73px "Liberation Serif"')
        },
        {
            type: 'pie', center: [2356, 2090], radius: 448, startAngle: 90, clockwise: true,
            avoidLabelOverlap: false, silent: true,
            itemStyle: { borderWidth: 0 },
            label: { show: true, position: 'outside', formatter: '{b}', fontFamily: sans, fontSize: 70, color: '#000' },
            labelLine: { show: false },
            data: pieNames.map((n, i) => ({
                name: n, value: pieValues[i],
                itemStyle: { color: i === 0 ? '#E64B35' : '#4DBBD5' },
                labelLine: { show: false, length: i === 0 ? 6 : 28, length2: 0 }
            }))
        },
        {
            type: 'pie', center: [2356, 2090], radius: 556, startAngle: 90, clockwise: true,
            avoidLabelOverlap: false, silent: true, z: 3,
            itemStyle: { color: 'rgba(0,0,0,0)', borderWidth: 0 },
            label: { show: true, position: 'inside', formatter: p => p.value.toFixed(2) + '%', fontFamily: sans, fontSize: 57, color: '#000' },
            labelLine: { show: false },
            data: pieNames.map((n, i) => ({ name: n + ' %', value: pieValues[i] }))
        }
    ]
};

chart.setOption(option);
</script>
</body>
</html>
